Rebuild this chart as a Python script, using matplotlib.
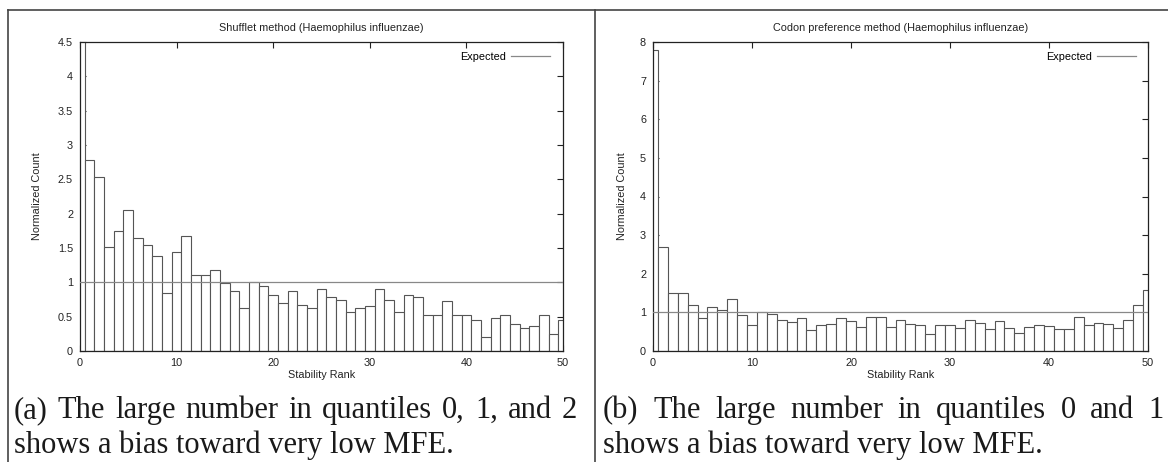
import numpy as np
import matplotlib
matplotlib.use("Agg")
import matplotlib.pyplot as plt

plt.rcParams['font.family'] = ['Liberation Sans', 'DejaVu Sans']

# Normalized counts per stability-rank quantile (0..50)
shufflet_counts = [
    4.90, 2.78, 2.53, 1.52, 1.75, 2.05, 1.64, 1.55, 1.38, 0.85,
    1.44, 1.67, 1.10, 1.10, 1.18, 0.99, 0.88, 0.62, 1.01, 0.95,
    0.82, 0.70, 0.88, 0.67, 0.62, 0.90, 0.78, 0.75, 0.57, 0.62,
    0.65, 0.90, 0.75, 0.57, 0.82, 0.78, 0.53, 0.53, 0.73, 0.53,
    0.53, 0.45, 0.20, 0.48, 0.53, 0.40, 0.34, 0.37, 0.53, 0.25,
    0.45,
]
codon_counts = [
    7.80, 2.68, 1.51, 1.51, 1.19, 0.85, 1.15, 1.07, 1.34, 0.93,
    0.68, 1.00, 0.97, 0.79, 0.74, 0.85, 0.55, 0.68, 0.70, 0.85,
    0.77, 0.62, 0.87, 0.87, 0.63, 0.79, 0.70, 0.68, 0.44, 0.68,
    0.68, 0.59, 0.80, 0.72, 0.57, 0.77, 0.59, 0.46, 0.63, 0.68,
    0.65, 0.56, 0.58, 0.87, 0.68, 0.73, 0.69, 0.60, 0.79, 1.19,
    1.57,
]
expected_level = 1.0

titles = ["Shufflet method (Haemophilus influenzae)",
          "Codon preference method (Haemophilus influenzae)"]
x_label = "Stability Rank"
y_label = "Normalized Count"
legend_label = "Expected"
x_ticks = [0, 10, 20, 30, 40, 50]
y_ticks_left = [0, 0.5, 1, 1.5, 2, 2.5, 3, 3.5, 4, 4.5]
y_tick_labels_left = ["0", "0.5", "1", "1.5", "2", "2.5", "3", "3.5", "4", "4.5"]
y_ticks_right = [0, 1, 2, 3, 4, 5, 6, 7, 8]

captions = [
    ["(a) The large number in quantiles 0, 1, and 2",
     "shows a bias toward very low MFE."],
    ["(b) The large number in quantiles 0 and 1",
     "shows a bias toward very low MFE."],
]

W, H = 1168, 462
fig = plt.figure(figsize=(W / 100, H / 100), dpi=100)
fig.patch.set_facecolor('white')


def px_axes(x0, y0, x1, y1):
    return fig.add_axes([x0 / W, 1 - y1 / H, (x1 - x0) / W, (y1 - y0) / H])


panels = [
    dict(box=(80, 42, 563, 351), counts=shufflet_counts, ylim=4.5,
         yticks=y_ticks_left, ylabels=y_tick_labels_left, ylab_x=42,
         leg=(550, 57)),
    dict(box=(653, 42, 1148, 351), counts=codon_counts, ylim=8,
         yticks=y_ticks_right, ylabels=[str(v) for v in y_ticks_right],
         ylab_x=627, leg=(1136, 57)),
]

txt_size = 7.8
txt_color = '#222222'

for p, title in zip(panels, titles):
    x0, y0, x1, y1 = p['box']
    ax = px_axes(x0, y0, x1, y1)
    ranks = np.arange(len(p['counts']))
    ax.bar(ranks, p['counts'], width=1.0, align='center',
           facecolor='white', edgecolor='#555555', linewidth=0.8, zorder=2)
    ax.axhline(expected_level, color='#888888', linewidth=0.9, zorder=3,
               label=legend_label)
    ax.set_xlim(0, 50)
    ax.set_ylim(0, p['ylim'])
    ax.set_xticks(x_ticks)
    ax.set_yticks(p['yticks'])
    ax.set_yticklabels(p['ylabels'])
    ax.tick_params(direction='in', length=4, width=0.8, top=True, right=True,
                   labelsize=7.8, colors=txt_color, pad=5)
    for s in ax.spines.values():
        s.set_linewidth(0.9)
        s.set_color(txt_color)
    ax.set_title(title, fontsize=txt_size, pad=8, color=txt_color)
    ax.set_xlabel(x_label, fontsize=txt_size, color=txt_color)
    ax.set_ylabel(y_label, fontsize=txt_size, color=txt_color)
    ax.xaxis.set_label_coords(0.5, -(370 - y1) / (y1 - y0))
    ax.yaxis.set_label_coords((p['ylab_x'] - x0) / (x1 - x0), 0.5)
    lx, ly = p['leg']
    ax.legend(loc='center right',
              bbox_to_anchor=((lx - x0) / (x1 - x0), (y1 - ly) / (y1 - y0)),
              frameon=False, markerfirst=False, fontsize=txt_size,
              handlelength=3.6, handletextpad=0.5, borderpad=0,
              borderaxespad=0)

# Page frame and caption area
bg = fig.add_axes([0, 0, 1, 1], zorder=-1)
bg.set_xlim(0, W)
bg.set_ylim(H, 0)
bg.axis('off')
frame_color = '#444444'
bg.plot([8, W], [10, 10], color=frame_color, lw=1.2)
bg.plot([8, 8], [10, H], color=frame_color, lw=1.2)
bg.plot([595, 595], [10, H], color=frame_color, lw=1.2)

renderer = fig.canvas.get_renderer()
serif = ['Liberation Serif', 'DejaVu Serif']
cap_size = 22


def justified(line, x_left, x_right, y):
    words = line.split(' ')
    items = [bg.text(0, y, w, fontsize=cap_size, family=serif,
                     ha='left', va='baseline', color='#1a1a1a') for w in words]
    widths = [t.get_window_extent(renderer).width for t in items]
    gap = (x_right - x_left - sum(widths)) / (len(words) - 1)
    x = x_left
    for t, w in zip(items, widths):
        t.set_x(x)
        x += w + gap


def plain(line, x_left, y):
    bg.text(x_left, y, line, fontsize=cap_size, family=serif,
            ha='left', va='baseline', color='#1a1a1a')


justified(captions[0][0], 14, 577, 418)
plain(captions[0][1], 14, 453)
justified(captions[1][0], 603, 1164, 418)
plain(captions[1][1], 603, 453)

fig.savefig('out.png', dpi=100, facecolor='white')
